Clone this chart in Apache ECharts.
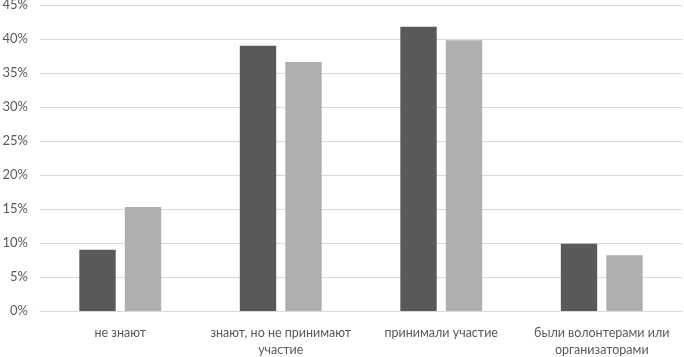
<!DOCTYPE html>
<html><head><meta charset="utf-8">
<script src="https://cdn.jsdelivr.net/npm/echarts@6/dist/echarts.min.js"></script>
<style>html,body{margin:0;padding:0;background:#fff}#c{width:684px;height:357px}</style>
</head><body><div id="c"></div>
<script>
var categories = ['не знают', 'знают, но не принимают\nучастие', 'принимали участие', 'были волонтерами или\nорганизаторами'];
var series1 = [9.0, 39.0, 41.8, 9.9];
var series2 = [15.3, 36.6, 39.8, 8.2];
var yTicks = [0, 5, 10, 15, 20, 25, 30, 35, 40, 45];

var chart = echarts.init(document.getElementById('c'));
chart.setOption({
  animation: false,
  grid: {left: 40, right: 2, top: 5, bottom: 46, outerBoundsMode: 'none', containLabel: false},
  xAxis: {
    type: 'category', data: categories,
    axisLine: {show: true, lineStyle: {color: '#d9d9d9'}},
    axisTick: {show: false},
    axisLabel: {color: '#595959', fontSize: 12.5, fontFamily: 'Lato', margin: 13, lineHeight: 17, interval: 0}
  },
  yAxis: {
    type: 'value', min: yTicks[0], max: yTicks[yTicks.length - 1], interval: 5,
    axisLine: {show: false}, axisTick: {show: false},
    splitLine: {lineStyle: {color: '#d9d9d9', width: 1}},
    axisLabel: {color: '#595959', fontSize: 13, fontFamily: 'Lato', margin: 12, formatter: '{value}%'}
  },
  series: [
    {type: 'bar', data: series1, itemStyle: {color: '#595959'}, barGap: '25%', barCategoryGap: '49%'},
    {type: 'bar', data: series2, itemStyle: {color: '#afafaf'}}
  ]
});
</script></body></html>
